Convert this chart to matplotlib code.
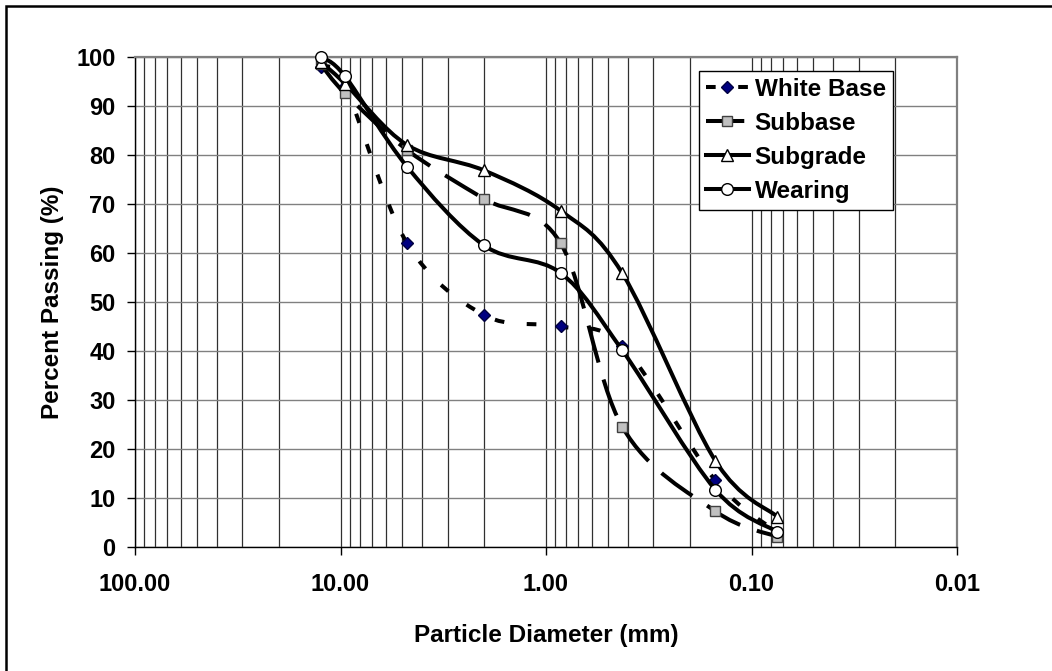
import numpy as np
import matplotlib
matplotlib.use('Agg')
import matplotlib.pyplot as plt
from matplotlib.path import Path
from matplotlib.patches import PathPatch, Rectangle
from matplotlib.lines import Line2D

# --- Data ---
sieve_mm = [12.5, 9.5, 4.75, 2.0, 0.85, 0.425, 0.15, 0.075]
white_base = [98.0, 94.0, 62.0, 47.3, 45.0, 41.0, 13.6, 3.0]
subbase = [98.5, 92.5, 81.0, 71.0, 62.0, 24.5, 7.3, 2.1]
subgrade = [99.0, 94.5, 82.0, 76.8, 68.6, 55.8, 17.6, 6.2]
wearing = [100.0, 96.0, 77.6, 61.5, 55.9, 40.1, 11.7, 3.1]

x_ticks = [100, 10, 1, 0.1, 0.01]
x_tick_labels = ['100.00', '10.00', '1.00', '0.10', '0.01']
y_ticks = [0, 10, 20, 30, 40, 50, 60, 70, 80, 90, 100]

plt.rcParams['font.family'] = ['Liberation Sans', 'DejaVu Sans']
plt.rcParams['font.weight'] = 'bold'
FS_TICK = 17
FS_TEXT = 17.5
LW = 2.9


def smooth_path(xs, ys):
    """Excel-like smoothed line: Catmull-Rom Bezier in (log x, y) space."""
    lx = np.log10(np.asarray(xs, float))
    y = np.asarray(ys, float)
    pts = np.column_stack([lx, y])
    n = len(pts)
    verts = [pts[0]]
    codes = [Path.MOVETO]
    for i in range(n - 1):
        p0 = pts[max(i - 1, 0)]
        p1 = pts[i]
        p2 = pts[i + 1]
        p3 = pts[min(i + 2, n - 1)]
        c1 = p1 + (p2 - p0) / 6.0
        c2 = p2 - (p3 - p1) / 6.0
        verts += [c1, c2, p2]
        codes += [Path.CURVE4] * 3
    verts = np.array(verts)
    verts[:, 0] = 10 ** verts[:, 0]
    return Path(verts, codes)


fig = plt.figure(figsize=(10.52, 6.71), dpi=100)
ax = fig.add_axes([135 / 1052, 124 / 671, 822 / 1052, 490.3 / 671])

# outer chart border (runs off the right and bottom edges)
fig.patches.append(Rectangle((6 / 1052, -0.2), 1.2, 1.2 - 6 / 671,
                             transform=fig.transFigure, fill=False,
                             edgecolor='black', linewidth=1.8, zorder=0))

ax.set_xscale('log')
ax.set_xlim(100, 0.01)
ax.set_ylim(0, 100)

series = [
    ('White Base', white_base, (0, (2.4, 5.6)), 'D', '#000080', '#000040', 6.5),
    ('Subbase', subbase, (0, (9.5, 4.4)), 's', '#c0c0c0', '#404040', 7.4),
    ('Subgrade', subgrade, '-', '^', 'white', 'black', 8.5),
    ('Wearing', wearing, '-', 'o', 'white', 'black', 8.4),
]

handles = []
for k, (name, vals, ls, mk, fc, ec, ms) in enumerate(series):
    patch = PathPatch(smooth_path(sieve_mm, vals), fill=False, edgecolor='black',
                      linewidth=LW, linestyle=ls, capstyle='butt', zorder=3 + k)
    ax.add_patch(patch)
    ax.plot(sieve_mm, vals, linestyle='none', marker=mk, markersize=ms,
            markerfacecolor=fc, markeredgecolor=ec, markeredgewidth=1.0,
            clip_on=False, zorder=3.5 + k)
    handles.append(Line2D([], [], color='black', linewidth=LW, linestyle=ls,
                          dash_capstyle='butt', marker=mk, markersize=ms,
                          markerfacecolor=fc, markeredgecolor=ec,
                          markeredgewidth=1.0, label=name))

# gridlines
ax.set_xticks(x_ticks)
ax.set_xticklabels(x_tick_labels)
ax.set_yticks(y_ticks)
ax.set_xticks([m * 10.0 ** e for e in range(-2, 2) for m in range(2, 10)], minor=True)
ax.xaxis.set_minor_formatter(plt.NullFormatter())
ax.grid(True, axis='x', which='both', color='#303030', linewidth=0.9)
ax.grid(True, axis='y', which='major', color='#808080', linewidth=1.0)
ax.set_axisbelow(True)

ax.tick_params(axis='both', which='major', direction='out', length=6,
               width=1, color='black', labelsize=FS_TICK)
ax.tick_params(axis='x', which='major', pad=13)
ax.tick_params(axis='y', which='major', pad=8)
ax.tick_params(axis='x', which='minor', length=0)
for lab in ax.get_xticklabels() + ax.get_yticklabels():
    lab.set_fontweight('bold')

for side in ['left', 'bottom']:
    ax.spines[side].set_color('black')
    ax.spines[side].set_linewidth(1.0)
for side in ['top', 'right']:
    ax.spines[side].set_color('#808080')
    ax.spines[side].set_linewidth(1.6)

ax.set_xlabel('Particle Diameter (mm)', fontsize=FS_TEXT, fontweight='bold', labelpad=20)
ax.set_ylabel('Percent Passing (%)', fontsize=FS_TEXT, fontweight='bold', labelpad=9)

leg = ax.legend(handles=handles, loc='upper right',
                bbox_to_anchor=(758 / 822, (547 - 70.7) / 490.3),
                borderaxespad=0, fontsize=FS_TEXT, numpoints=1, handlelength=1.75,
                handletextpad=0.25, labelspacing=0.45, borderpad=0.3,
                fancybox=False, framealpha=1, edgecolor='black')
leg.get_frame().set_linewidth(1.0)
leg.set_zorder(20)
for t in leg.get_texts():
    t.set_fontweight('bold')

fig.savefig('out.png', dpi=100)
